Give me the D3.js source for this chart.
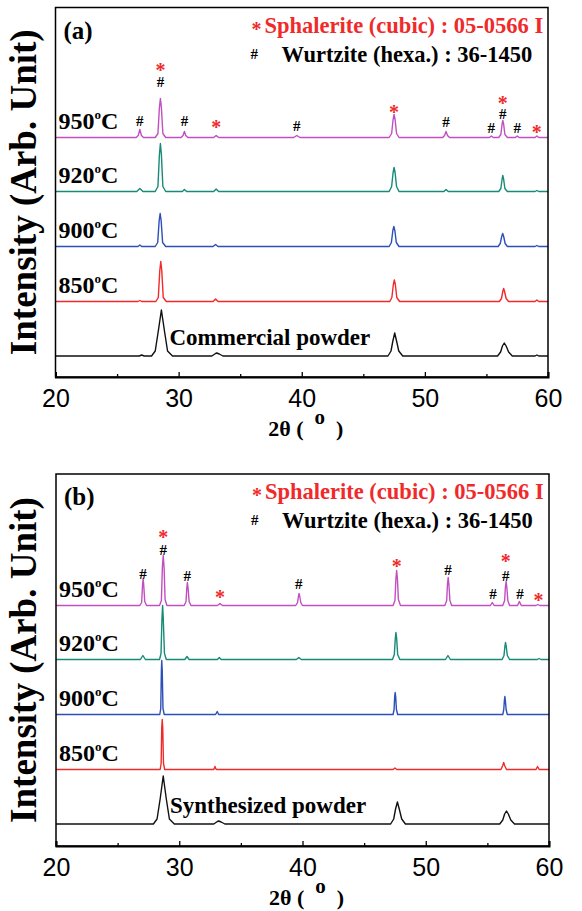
<html>
<head>
<script src="https://d3js.org/d3.v7.min.js"></script>
<style>
  body { margin: 0; background: white; }
  .serif { font-family: "Liberation Serif", "Times New Roman", serif; font-weight: bold; }
  .tick text { font-family: "Liberation Sans", Arial, sans-serif; font-size: 25px; }
</style>
</head>
<body>
<svg id="chart" width="582" height="911"></svg>
<script>
// sample names (bottom to top) and colours
const samples = ["powder", "850", "900", "920", "950"];
const colors = ["#111111", "#f02a2a", "#2c4fb8", "#178a78", "#c050c0"];
const tempLabels = [null, "850", "900", "920", "950"];
// vertical offset of each pattern (arb. unit)
const offsets = [0, 54.5, 109.5, 164.5, 218.5];

// panel (a): commercial powder, points are [2theta, intensity]
const aBase = [[20,0],[26.8,0],[27.0,1],[27.2,0],[27.8,0],[28.1,5],[28.35,25],[28.6,46],[28.85,25],[29.1,5],[29.5,0],[32.7,0],[33.0,2.5],[33.1,3],[33.3,2],[33.6,0],[47.0,0],[47.25,5],[47.4,15],[47.55,23],[47.7,15],[47.88,5],[48.2,0],[55.9,0],[56.15,4],[56.3,10],[56.45,13],[56.6,10],[56.8,4],[57.1,0],[58.95,0],[59.1,1],[59.25,0],[60,0]];
const a850 = [[20,0],[26.7,0],[26.85,1],[27.0,0],[28.15,0],[28.35,4],[28.47,31],[28.55,40],[28.63,31],[28.75,4],[29.0,0],[32.8,0],[33.0,2.5],[33.2,0],[47.15,0],[47.32,4],[47.44,17],[47.52,21.5],[47.6,17],[47.72,4],[47.95,0],[56.05,0],[56.22,3],[56.33,10],[56.4,13],[56.47,10],[56.6,3],[56.8,0],[58.95,0],[59.1,1.5],[59.25,0],[60,0]];
const a900 = [[20,0],[26.7,0],[26.85,1.5],[27.0,0],[28.1,0],[28.3,4],[28.42,26],[28.5,33],[28.58,26],[28.7,4],[28.95,0],[32.8,0],[33.0,2],[33.2,0],[47.1,0],[47.28,4],[47.4,16],[47.48,20],[47.56,16],[47.68,4],[47.9,0],[55.95,0],[56.12,3],[56.24,10],[56.32,13],[56.4,10],[56.52,3],[56.7,0],[58.95,0],[59.1,1],[59.25,0],[60,0]];
const a920 = [[20,0],[26.6,0],[26.85,3],[27.1,0],[28.1,0],[28.32,5],[28.44,37],[28.52,48],[28.6,37],[28.72,5],[28.95,0],[30.3,0],[30.47,2],[30.65,0],[32.85,0],[33.05,2.5],[33.25,0],[47.1,0],[47.3,5],[47.42,19],[47.5,24],[47.58,19],[47.7,5],[47.9,0],[51.55,0],[51.72,2],[51.9,0],[56.0,0],[56.17,3],[56.27,12],[56.33,16],[56.4,12],[56.5,3],[56.7,0],[58.95,0],[59.1,1],[59.25,0],[60,0]];
const a950 = [[20,0],[26.55,0],[26.72,2],[26.85,8],[26.98,2],[27.15,0],[28.1,0],[28.32,4],[28.44,30],[28.52,39],[28.6,30],[28.72,4],[28.95,0],[30.2,0],[30.36,2],[30.47,6],[30.58,2],[30.75,0],[32.85,0],[33.05,2],[33.25,0],[39.35,0],[39.6,2],[39.85,0],[47.1,0],[47.3,4],[47.42,18],[47.5,23],[47.58,18],[47.7,4],[47.9,0],[51.45,0],[51.6,2],[51.72,6],[51.84,2],[52.0,0],[55.25,0],[55.4,1.5],[55.55,0],[56.0,0],[56.17,3],[56.27,13],[56.33,17],[56.4,13],[56.5,3],[56.7,0],[57.35,0],[57.5,1.5],[57.65,0],[58.95,0],[59.1,1.5],[59.25,0],[60,0]];

// panel (b): synthesized powder
const bBase = [[20,0],[27.9,0],[28.2,5],[28.45,25],[28.7,48],[28.95,25],[29.2,5],[29.6,0],[32.8,0],[33.1,2.5],[33.2,3],[33.4,2],[33.7,0],[47.15,0],[47.4,5],[47.55,15],[47.7,22],[47.85,15],[48.05,5],[48.35,0],[56.0,0],[56.25,4],[56.4,10],[56.55,13],[56.7,10],[56.9,4],[57.2,0],[60,0]];
const b850 = [[20,0],[28.45,0],[28.53,6],[28.58,42],[28.62,50],[28.66,42],[28.72,6],[28.82,0],[32.8,0],[32.9,3],[33.0,0],[47.35,0],[47.5,1.5],[47.65,0],[56.1,0],[56.25,4],[56.32,7],[56.4,4],[56.55,0],[58.95,0],[59.07,3],[59.2,0],[60,0]];
const b900 = [[20,0],[28.42,0],[28.5,6],[28.55,44],[28.58,54],[28.62,44],[28.68,6],[28.78,0],[32.95,0],[33.08,3],[33.2,0],[47.35,0],[47.43,5],[47.48,18],[47.52,22],[47.56,18],[47.62,5],[47.72,0],[56.25,0],[56.33,5],[56.38,14],[56.42,18],[56.46,14],[56.52,5],[56.62,0],[60,0]];
const b920 = [[20,0],[26.85,0],[27.05,4],[27.25,0],[28.4,0],[28.52,6],[28.6,42],[28.65,54],[28.7,42],[28.8,6],[28.95,0],[30.45,0],[30.63,3],[30.8,0],[33.1,0],[33.25,2],[33.4,0],[39.5,0],[39.7,2],[39.9,0],[47.3,0],[47.45,5],[47.53,21],[47.58,27],[47.64,21],[47.72,5],[47.9,0],[51.6,0],[51.8,4],[52.0,0],[56.2,0],[56.35,4],[56.42,13],[56.47,17],[56.53,13],[56.62,4],[56.8,0],[59.05,0],[59.2,1],[59.35,0],[60,0]];
const b950 = [[20,0],[26.8,0],[26.95,3],[27.02,20],[27.07,27],[27.12,20],[27.2,4],[27.35,0],[28.4,0],[28.55,5],[28.63,38],[28.7,50],[28.77,38],[28.85,6],[29.0,0],[30.4,0],[30.55,4],[30.61,17],[30.66,23],[30.72,17],[30.8,4],[30.95,0],[33.1,0],[33.3,2],[33.5,0],[39.45,0],[39.6,3],[39.67,9],[39.72,12],[39.78,9],[39.86,3],[40.0,0],[47.35,0],[47.5,5],[47.58,27],[47.64,35],[47.7,27],[47.78,6],[47.95,0],[51.55,0],[51.7,5],[51.76,21],[51.82,28],[51.88,21],[51.96,5],[52.1,0],[55.25,0],[55.4,3],[55.55,0],[56.25,0],[56.4,5],[56.46,18],[56.52,24],[56.58,18],[56.66,5],[56.8,0],[57.45,0],[57.6,4],[57.75,0],[58.95,0],[59.1,1],[59.25,0],[60,0]];

// phase markers on the 950 pattern: [2theta, symbol, level above baseline]
const aMarkers = [[26.85,"#",17],[28.52,"#",56],[28.52,"*",71],[30.47,"#",17],[33.05,"*",14],[39.6,"#",11.5],[47.5,"*",29],[51.72,"#",15.5],[55.4,"#",10],[56.33,"#",24],[56.33,"*",38],[57.5,"#",10],[59.08,"*",9]];
const bMarkers = [[27.05,"#",31.5],[28.7,"#",55.5],[28.7,"*",71.5],[30.65,"#",30],[33.3,"*",12],[39.7,"#",22],[47.64,"*",43],[51.8,"#",35.5],[55.45,"#",12],[56.5,"#",30],[56.5,"*",48],[57.65,"#",12],[59.15,"*",8.5]];

const xTicks = [20, 30, 40, 50, 60];
const xMinor = [25, 35, 45, 55];
const legendSph = "Sphalerite (cubic) : 05-0566 I";
const legendWur = "Wurtzite (hexa.) : 36-1450";

const panels = [
  { tag: "(a)", sample: "Commercial powder", data: [aBase, a850, a900, a920, a950], markers: aMarkers,
    frame: { l: 55.5, r: 548, t: 7.5, b: 377 }, yDomain: [-21, 348.5] },
  { tag: "(b)", sample: "Synthesized powder", data: [bBase, b850, b900, b920, b950], markers: bMarkers,
    frame: { l: 56, r: 549, t: 474, b: 846 }, yDomain: [-22, 350] }
];

const svg = d3.select("#chart");
const red = "#f02a2a";

panels.forEach(p => {
  const f = p.frame;
  const x = d3.scaleLinear().domain([20, 60]).range([f.l, f.r]);
  const y = d3.scaleLinear().domain(p.yDomain).range([f.b, f.t]);
  const g = svg.append("g");

  // curves
  p.data.forEach((pts, i) => {
    const line = d3.line().x(d => x(d[0])).y(d => y(d[1] + offsets[i]));
    g.append("path").datum(pts)
      .attr("d", line)
      .attr("fill", "none")
      .attr("stroke", colors[i])
      .attr("stroke-width", 1.4)
      .attr("stroke-linejoin", "round");
  });

  // frame
  g.append("rect")
    .attr("x", f.l).attr("y", f.t)
    .attr("width", f.r - f.l).attr("height", f.b - f.t)
    .attr("fill", "none").attr("stroke", "#000").attr("stroke-width", 1.5);

  // x axis, ticks pointing inward
  const ax = g.append("g").attr("transform", `translate(0,${f.b})`)
    .call(d3.axisBottom(x).tickValues(xTicks).tickSize(-5).tickFormat(d3.format("d")));
  ax.select(".domain").attr("stroke-width", 2);
  ax.selectAll(".tick line").attr("stroke-width", 1.3);
  ax.selectAll(".tick text").attr("y", 30).attr("dy", 0).attr("fill", "#000");
  const axm = g.append("g").attr("transform", `translate(0,${f.b})`)
    .call(d3.axisBottom(x).tickValues(xMinor).tickSize(-3).tickFormat(""));
  axm.select(".domain").remove();
  axm.selectAll(".tick line").attr("stroke-width", 1.3);

  // x title
  const xt = g.append("text").attr("class", "serif")
    .attr("x", (f.l + f.r) / 2 + 4).attr("y", f.b + 59)
    .attr("text-anchor", "middle").attr("font-size", 22);
  xt.append("tspan").text("2\u03b8 (\u00a0\u00a0");
  xt.append("tspan").attr("dy", -12).attr("font-size", 21).text("o");
  xt.append("tspan").attr("dy", 12).text("\u00a0\u00a0)");

  // y title
  g.append("text").attr("class", "serif")
    .attr("transform", `translate(36,${(f.t + f.b) / 2}) rotate(-90)`)
    .attr("text-anchor", "middle").attr("font-size", 37)
    .text("Intensity (Arb. Unit)");

  // panel tag
  g.append("text").attr("class", "serif")
    .attr("x", f.l + 8).attr("y", f.t + 31)
    .attr("font-size", 25).text(p.tag);

  // legend
  g.append("text").attr("class", "serif")
    .attr("x", f.l + 196).attr("y", f.t + 28).attr("font-size", 20).attr("fill", red).text("*");
  g.append("text").attr("class", "serif")
    .attr("x", f.l + 209).attr("y", f.t + 25).attr("font-size", 22.5).attr("fill", red).text(legendSph);
  g.append("text").attr("class", "serif")
    .attr("x", f.l + 195).attr("y", f.t + 51).attr("font-size", 15).attr("fill", "#000").text("#");
  g.append("text").attr("class", "serif")
    .attr("x", f.l + 226).attr("y", f.t + 54).attr("font-size", 22.5).attr("fill", "#000").text(legendWur);

  // temperature labels
  tempLabels.forEach((t, i) => {
    if (!t) return;
    const lt = g.append("text").attr("class", "serif")
      .attr("x", f.l + 3).attr("y", y(offsets[i] + 8.5)).attr("font-size", 24);
    lt.append("tspan").text(t);
    lt.append("tspan").attr("dy", -10).attr("font-size", 13).text("o");
    lt.append("tspan").attr("dy", 10).text("C");
  });

  // sample label
  g.append("text").attr("class", "serif")
    .attr("x", f.l + 114).attr("y", y(offsets[0] + 11))
    .attr("font-size", 23).text(p.sample);

  // phase markers
  const top = offsets[4];
  p.markers.forEach(m => {
    const star = m[1] === "*";
    g.append("text").attr("class", "serif")
      .attr("x", x(m[0]))
      .attr("y", y(top + m[2]) + (star ? 10 : 5))
      .attr("text-anchor", "middle")
      .attr("font-size", star ? 20 : 15)
      .attr("fill", star ? red : "#000")
      .text(m[1]);
  });
});
</script>
</body>
</html>
